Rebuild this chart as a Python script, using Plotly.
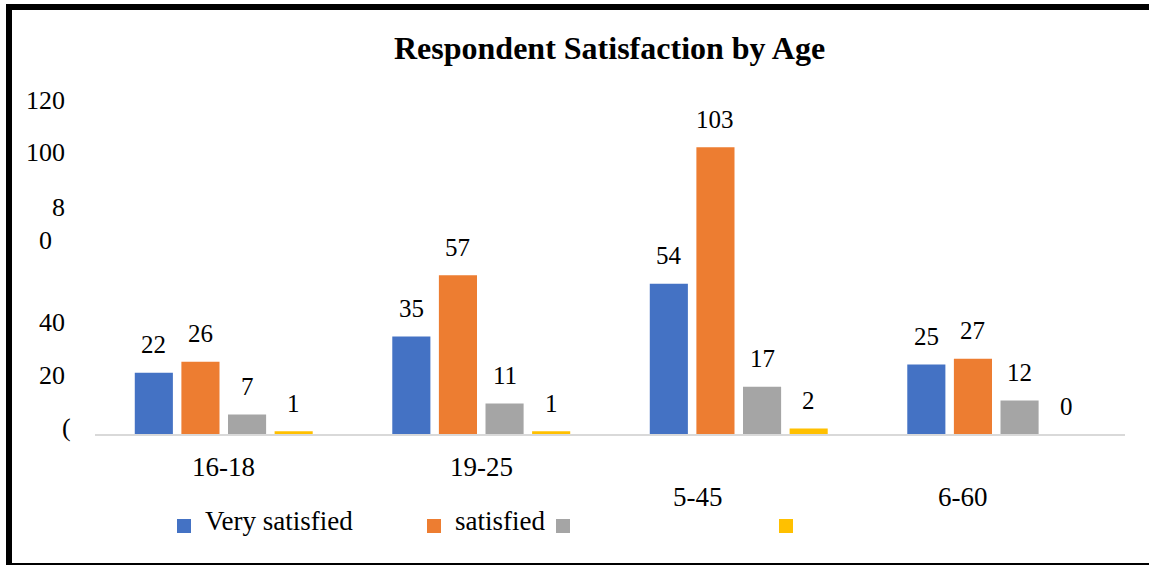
import plotly.graph_objects as go

# ---------------- data ----------------
categories = ["16-18", "19-25", "5-45", "6-60"]
series_names = ["Very satisfied", "satisfied", "", ""]
very_satisfied = [22, 35, 54, 25]
satisfied = [26, 57, 103, 27]
series3 = [7, 11, 17, 12]
series4 = [1, 1, 2, 0]
y_tick_texts = ["120", "100", "8", "0", "40", "20", "("]

# ---------------- layout helpers ----------------
W, H = 1149, 565
L, R, T, B = 95, 1125, 100, 434


def px(xp):
    return (xp - L) / (R - L)


def py(yp):
    return (B - yp) / (B - T)


colors = ["#4472C4", "#ED7D31", "#A5A5A5", "#FFC000"]
values = [very_satisfied, satisfied, series3, series4]
slot = 0.181
bar_w = 0.148
FONT = "Liberation Serif, Times New Roman, Times, serif"

fig = go.Figure()
annotations = []
for s, (vals, col, name) in enumerate(zip(values, colors, series_names)):
    xs = [i + (s - 1.5) * slot for i in range(len(categories))]
    fig.add_trace(go.Bar(x=xs, y=vals, width=bar_w, marker=dict(color=col, line=dict(width=0)),
                         name=name if name else f"Series {s+1}", showlegend=False))
    for x, v in zip(xs, vals):
        annotations.append(dict(x=x, y=v, xref="x", yref="y", text=str(v), showarrow=False,
                                yanchor="middle", yshift=28,
                                font=dict(family=FONT, size=25, color="#000000")))

# category labels (positioned as in the reference)
cat_xshift = [0, 0, -41, -33]
cat_ypix = [467, 467, 497, 497]
for i, c in enumerate(categories):
    annotations.append(dict(x=i, xshift=cat_xshift[i], y=py(cat_ypix[i]), xref="x", yref="paper",
                            text=c, showarrow=False, yanchor="middle",
                            font=dict(family=FONT, size=27, color="#000000")))

# y-axis tick labels (as rendered in the reference)
tick_pos = [(67, 100), (67, 152), (67, 207), (54, 240), (67, 322), (67, 375), (73, 427)]
for t, (xr, yc) in zip(y_tick_texts, tick_pos):
    annotations.append(dict(x=px(xr), y=py(yc), xref="paper", yref="paper", text=t,
                            showarrow=False, xanchor="right", yanchor="middle",
                            font=dict(family=FONT, size=26, color="#000000")))

# manual legend
legend_sq_x = [177, 427, 556, 779]
shapes = []
for s in range(4):
    x0 = legend_sq_x[s]
    shapes.append(dict(type="rect", xref="paper", yref="paper", x0=px(x0), x1=px(x0 + 14),
                       y0=py(533), y1=py(519), fillcolor=colors[s], line=dict(width=0)))
    if series_names[s]:
        annotations.append(dict(x=px(x0 + 26), y=py(521), xref="paper", yref="paper",
                                text=series_names[s], showarrow=False, xanchor="left",
                                yanchor="middle",
                                font=dict(family=FONT, size=27, color="#000000")))

# border of the picture
shapes.append(dict(type="rect", xref="paper", yref="paper", x0=px(6), x1=px(W + 5), y0=py(10), y1=py(4),
                   fillcolor="#000000", line=dict(width=0)))
shapes.append(dict(type="rect", xref="paper", yref="paper", x0=px(6), x1=px(12), y0=py(H + 5), y1=py(4),
                   fillcolor="#000000", line=dict(width=0)))
shapes.append(dict(type="rect", xref="paper", yref="paper", x0=px(6), x1=px(W + 5), y0=py(H + 5), y1=py(563),
                   fillcolor="#000000", line=dict(width=0)))

# title
annotations.append(dict(x=px(609), y=py(48), xref="paper", yref="paper",
                        text="<b>Respondent Satisfaction by Age</b>", showarrow=False,
                        xanchor="center", yanchor="middle",
                        font=dict(family=FONT, size=32, color="#000000")))

fig.update_layout(
    width=W, height=H,
    margin=dict(l=L, r=W - R, t=T, b=H - B, pad=0),
    paper_bgcolor="white", plot_bgcolor="white",
    font=dict(family=FONT),
    xaxis=dict(range=[-0.5, 3.5], showticklabels=False, ticks="", showgrid=False, zeroline=False,
               showline=True, linecolor="#D9D9D9", linewidth=2, fixedrange=True),
    yaxis=dict(range=[0, 120], showticklabels=False, ticks="", showgrid=False, zeroline=False,
               showline=False, fixedrange=True),
    annotations=annotations,
    shapes=shapes,
    showlegend=False,
)

fig.write_html("out.html")
